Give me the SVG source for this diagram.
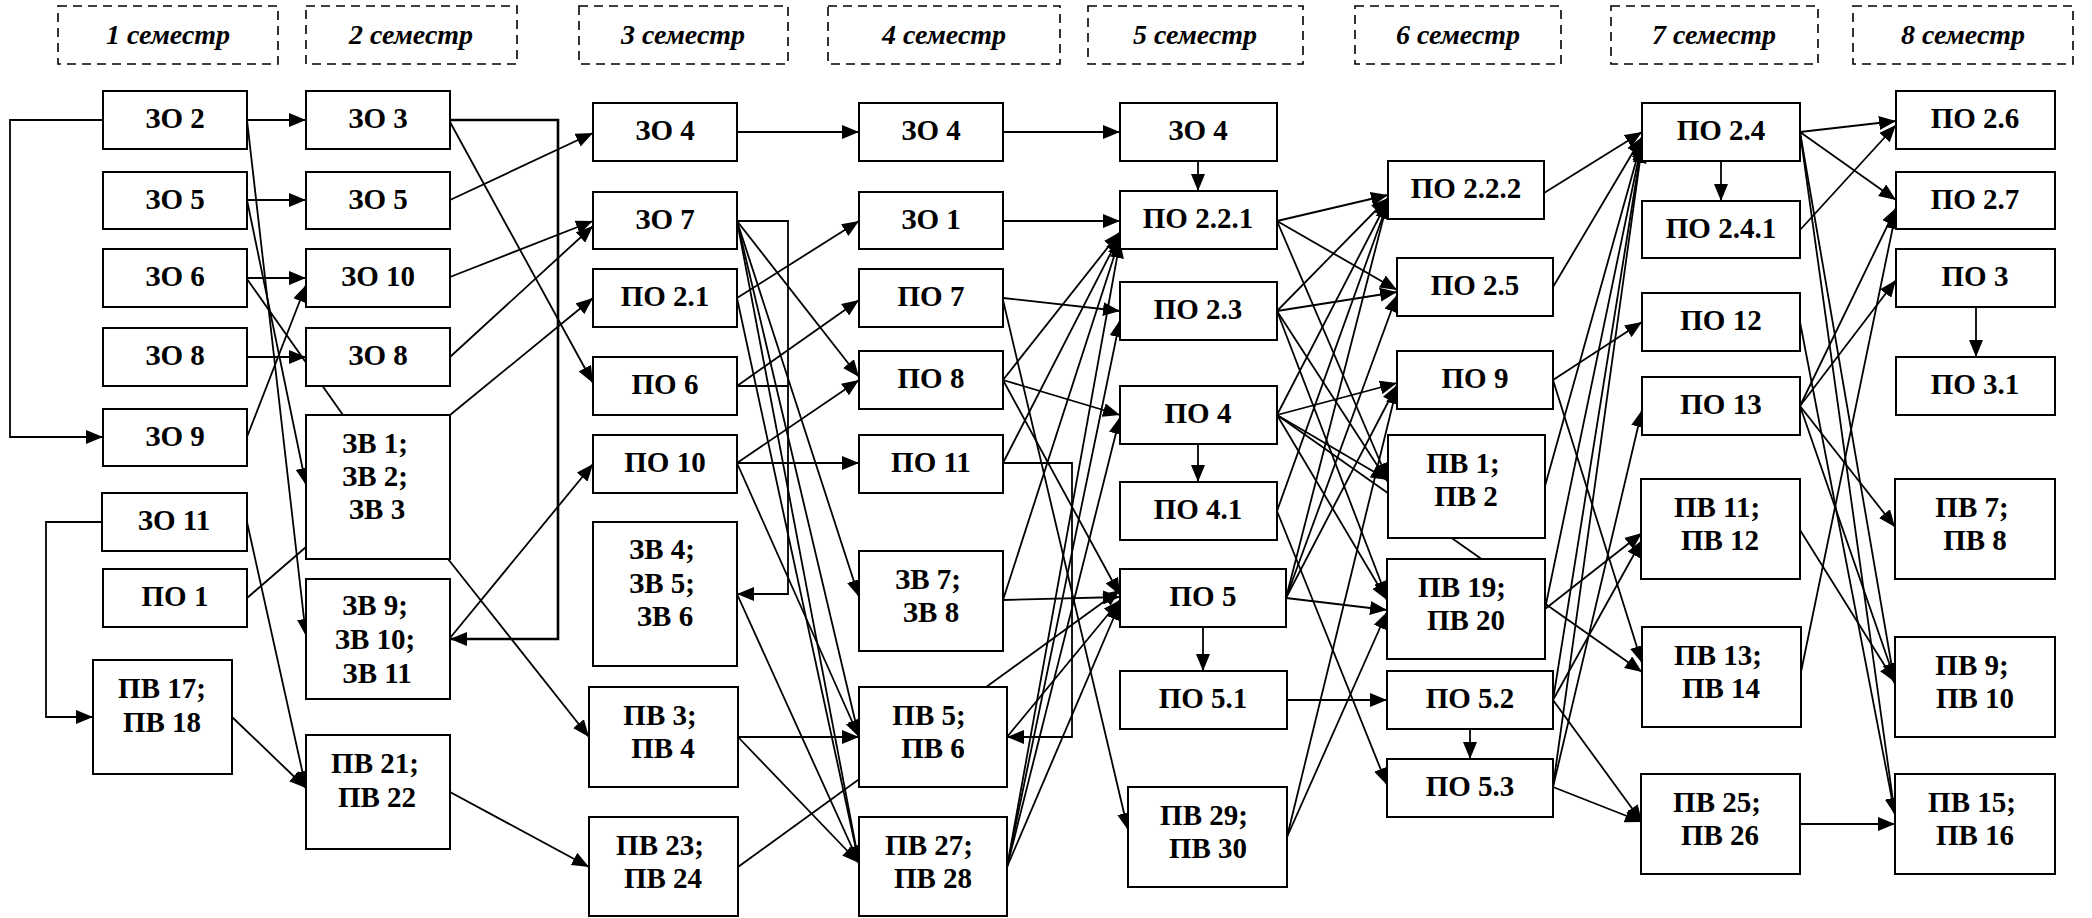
<svg xmlns="http://www.w3.org/2000/svg" width="2092" height="918" viewBox="0 0 2092 918">
<style>
.bg{fill:#fff}
.box{fill:#fff;stroke:#000;stroke-width:2}
.hdr{fill:none;stroke:#000;stroke-width:1.6;stroke-dasharray:9 6}
.t{font-weight:700;font-size:29px;text-anchor:middle;fill:#000}
.h{font-weight:700;font-style:italic;font-size:28px;text-anchor:middle;fill:#000}
#connectors path{fill:none;stroke:#000;stroke-width:1.8}
#connectors path.a{marker-end:url(#ah)}
#connectors path.k{stroke-width:2.6}
</style>
<defs>
<marker id="ah" markerUnits="userSpaceOnUse" markerWidth="17" markerHeight="14" refX="17" refY="7" orient="auto"><path d="M0,0 L17,7 L0,14 z" fill="#000"/></marker>
</defs>
<rect class="bg" x="0" y="0" width="2092" height="918"/>
<g id="headers" font-family="Liberation Serif, Times New Roman, serif">
<rect class="hdr" x="58" y="6" width="220" height="58"/><text class="h" x="168" y="44">1 семестр</text>
<rect class="hdr" x="306" y="6" width="211" height="58"/><text class="h" x="411" y="44">2 семестр</text>
<rect class="hdr" x="579" y="6" width="209" height="58"/><text class="h" x="683" y="44">3 семестр</text>
<rect class="hdr" x="828" y="6" width="232" height="58"/><text class="h" x="944" y="44">4 семестр</text>
<rect class="hdr" x="1088" y="6" width="215" height="58"/><text class="h" x="1195" y="44">5 семестр</text>
<rect class="hdr" x="1355" y="6" width="206" height="58"/><text class="h" x="1458" y="44">6 семестр</text>
<rect class="hdr" x="1611" y="6" width="207" height="58"/><text class="h" x="1714" y="44">7 семестр</text>
<rect class="hdr" x="1853" y="6" width="220" height="58"/><text class="h" x="1963" y="44">8 семестр</text>
</g>
<g id="connectors">
<path class="a" d="M103,120 H10 V437 H103"/>
<path class="a" d="M102,522 H46 V717 H93"/>
<path class="a" d="M247,120 H306"/>
<path class="a" d="M247,200 H306"/>
<path class="a" d="M247,278 H306"/>
<path class="a" d="M247,357 H306"/>
<path class="a" d="M247,437 L306,285"/>
<path class="a" d="M247,120 L306,636"/>
<path class="a" d="M247,200 L306,485"/>
<path d="M247,279 L343,415"/>
<path d="M247,598 L306,547"/>
<path class="a" d="M247,522 L306,788"/>
<path class="a" d="M232,717 L306,788"/>
<path class="a k" d="M450,120 H558 V639 H450"/>
<path class="a" d="M450,122 L593,383"/>
<path class="a" d="M450,200 L593,133"/>
<path class="a" d="M450,277 L593,221"/>
<path class="a" d="M450,357 L593,226"/>
<path class="a" d="M450,415 L593,298"/>
<path class="a" d="M448,559 L589,737"/>
<path class="a" d="M450,638 L593,464"/>
<path class="a" d="M450,792 L589,867"/>
<path class="a" d="M737,132 H859"/>
<path class="a" d="M737,221 H788 V594 H737"/>
<path d="M737,386 H788"/>
<path class="a" d="M737,221 L859,377"/>
<path class="a" d="M737,221 L859,597"/>
<path class="a" d="M737,221 L859,737"/>
<path class="a" d="M737,221 L859,863"/>
<path class="a" d="M737,298 L859,221"/>
<path class="a" d="M737,298 L859,863"/>
<path class="a" d="M737,386 L859,300"/>
<path class="a" d="M737,463 L859,380"/>
<path class="a" d="M737,463 H859"/>
<path class="a" d="M737,463 L859,737"/>
<path class="a" d="M737,594 L859,863"/>
<path class="a" d="M738,737 H859"/>
<path class="a" d="M738,737 L859,863"/>
<path class="a" d="M738,867 L1120,590"/>
<path class="a" d="M1003,132 H1120"/>
<path class="a" d="M1003,221 H1120"/>
<path class="a" d="M1003,298 L1120,311"/>
<path class="a" d="M1003,300 L1128,830"/>
<path class="a" d="M1003,380 L1120,232"/>
<path class="a" d="M1003,380 L1120,415"/>
<path class="a" d="M1003,380 L1120,595"/>
<path class="a" d="M1003,463 H1072 V737 H1007"/>
<path class="a" d="M1003,463 L1120,235"/>
<path class="a" d="M1003,600 L1120,597"/>
<path class="a" d="M1003,600 L1120,238"/>
<path class="a" d="M1007,737 L1120,600"/>
<path class="a" d="M1007,867 L1120,603"/>
<path class="a" d="M1007,867 L1120,417"/>
<path class="a" d="M1007,867 L1120,320"/>
<path class="a" d="M1007,867 L1120,241"/>
<path class="a" d="M1198,161 V191"/>
<path class="a" d="M1198,444 V482"/>
<path class="a" d="M1203,627 V671"/>
<path class="a" d="M1277,221 L1388,195"/>
<path class="a" d="M1277,221 L1397,290"/>
<path class="a" d="M1277,221 L1388,480"/>
<path class="a" d="M1277,311 L1388,198"/>
<path class="a" d="M1277,311 L1397,292"/>
<path class="a" d="M1277,311 L1388,482"/>
<path class="a" d="M1277,311 L1387,598"/>
<path class="a" d="M1277,415 L1388,200"/>
<path class="a" d="M1277,415 L1397,383"/>
<path class="a" d="M1277,415 L1388,480"/>
<path class="a" d="M1277,415 L1642,672"/>
<path class="a" d="M1277,415 L1387,600"/>
<path class="a" d="M1277,511 L1388,202"/>
<path class="a" d="M1277,511 L1387,785"/>
<path class="a" d="M1286,598 L1388,200"/>
<path class="a" d="M1286,598 L1397,295"/>
<path class="a" d="M1286,598 L1397,385"/>
<path class="a" d="M1286,598 L1387,610"/>
<path class="a" d="M1287,700 H1387"/>
<path class="a" d="M1287,837 L1397,387"/>
<path class="a" d="M1287,837 L1387,612"/>
<path class="a" d="M1470,729 V759"/>
<path class="a" d="M1544,193 L1642,132"/>
<path class="a" d="M1553,287 L1642,137"/>
<path class="a" d="M1545,486 L1642,140"/>
<path class="a" d="M1545,609 L1642,142"/>
<path class="a" d="M1553,700 L1642,144"/>
<path class="a" d="M1553,787 L1642,146"/>
<path class="a" d="M1553,380 L1642,322"/>
<path class="a" d="M1553,380 L1642,663"/>
<path class="a" d="M1545,609 L1642,533"/>
<path class="a" d="M1553,700 L1642,540"/>
<path class="a" d="M1553,787 L1642,410"/>
<path class="a" d="M1553,700 L1642,822"/>
<path class="a" d="M1553,787 L1642,822"/>
<path class="a" d="M1721,161 V201"/>
<path class="a" d="M1800,132 L1896,121"/>
<path class="a" d="M1800,132 L1896,200"/>
<path class="a" d="M1800,132 L1895,685"/>
<path class="a" d="M1800,132 L1895,815"/>
<path class="a" d="M1800,230 L1896,125"/>
<path class="a" d="M1800,322 L1895,815"/>
<path class="a" d="M1800,406 L1896,208"/>
<path class="a" d="M1800,406 L1896,280"/>
<path class="a" d="M1800,406 L1895,527"/>
<path class="a" d="M1800,406 L1895,680"/>
<path class="a" d="M1800,530 L1895,682"/>
<path class="a" d="M1801,672 L1896,212"/>
<path class="a" d="M1800,824 H1895"/>
<path class="a" d="M1976,307 V357"/>
</g>
<g id="nodes" font-family="Liberation Serif, Times New Roman, serif">
<g id="n-zo2-1"><rect class="box" x="103" y="91" width="144" height="58"/><text class="t" x="175" y="128">ЗО 2</text></g>
<g id="n-zo5-1"><rect class="box" x="103" y="172" width="144" height="57"/><text class="t" x="175" y="209">ЗО 5</text></g>
<g id="n-zo6-1"><rect class="box" x="103" y="249" width="144" height="58"/><text class="t" x="175" y="286">ЗО 6</text></g>
<g id="n-zo8-1"><rect class="box" x="103" y="328" width="144" height="58"/><text class="t" x="175" y="365">ЗО 8</text></g>
<g id="n-zo9-1"><rect class="box" x="103" y="409" width="144" height="57"/><text class="t" x="175" y="446">ЗО 9</text></g>
<g id="n-zo11-1"><rect class="box" x="102" y="493" width="145" height="58"/><text class="t" x="174" y="530">ЗО 11</text></g>
<g id="n-po1"><rect class="box" x="103" y="569" width="144" height="58"/><text class="t" x="175" y="606">ПО 1</text></g>
<g id="n-pv17"><rect class="box" x="93" y="660" width="139" height="114"/><text class="t" x="162" y="698">ПВ 17;</text><text class="t" x="162" y="732">ПВ 18</text></g>
<g id="n-zo3-2"><rect class="box" x="306" y="91" width="144" height="58"/><text class="t" x="378" y="128">ЗО 3</text></g>
<g id="n-zo5-2"><rect class="box" x="306" y="172" width="144" height="57"/><text class="t" x="378" y="209">ЗО 5</text></g>
<g id="n-zo10-2"><rect class="box" x="306" y="249" width="144" height="58"/><text class="t" x="378" y="286">ЗО 10</text></g>
<g id="n-zo8-2"><rect class="box" x="306" y="328" width="144" height="58"/><text class="t" x="378" y="365">ЗО 8</text></g>
<g id="n-zv1"><rect class="box" x="306" y="415" width="144" height="144"/><text class="t" x="375" y="453">ЗВ 1;</text><text class="t" x="375" y="486">ЗВ 2;</text><text class="t" x="377" y="519">ЗВ 3</text></g>
<g id="n-zv9"><rect class="box" x="306" y="579" width="144" height="120"/><text class="t" x="375" y="615">ЗВ 9;</text><text class="t" x="375" y="649">ЗВ 10;</text><text class="t" x="377" y="683">ЗВ 11</text></g>
<g id="n-pv21"><rect class="box" x="306" y="735" width="144" height="114"/><text class="t" x="375" y="773">ПВ 21;</text><text class="t" x="377" y="807">ПВ 22</text></g>
<g id="n-zo4-3"><rect class="box" x="593" y="103" width="144" height="58"/><text class="t" x="665" y="140">ЗО 4</text></g>
<g id="n-zo7-3"><rect class="box" x="593" y="192" width="144" height="57"/><text class="t" x="665" y="229">ЗО 7</text></g>
<g id="n-po21"><rect class="box" x="593" y="269" width="144" height="58"/><text class="t" x="665" y="306">ПО 2.1</text></g>
<g id="n-po6"><rect class="box" x="593" y="357" width="144" height="58"/><text class="t" x="665" y="394">ПО 6</text></g>
<g id="n-po10"><rect class="box" x="593" y="435" width="144" height="58"/><text class="t" x="665" y="472">ПО 10</text></g>
<g id="n-zv4"><rect class="box" x="593" y="522" width="144" height="144"/><text class="t" x="662" y="559">ЗВ 4;</text><text class="t" x="662" y="593">ЗВ 5;</text><text class="t" x="665" y="626">ЗВ 6</text></g>
<g id="n-pv3"><rect class="box" x="589" y="687" width="149" height="100"/><text class="t" x="660" y="725">ПВ 3;</text><text class="t" x="663" y="758">ПВ 4</text></g>
<g id="n-pv23"><rect class="box" x="589" y="817" width="149" height="99"/><text class="t" x="660" y="855">ПВ 23;</text><text class="t" x="663" y="888">ПВ 24</text></g>
<g id="n-zo4-4"><rect class="box" x="859" y="103" width="144" height="58"/><text class="t" x="931" y="140">ЗО 4</text></g>
<g id="n-zo1-4"><rect class="box" x="859" y="192" width="144" height="57"/><text class="t" x="931" y="229">ЗО 1</text></g>
<g id="n-po7"><rect class="box" x="859" y="269" width="144" height="58"/><text class="t" x="931" y="306">ПО 7</text></g>
<g id="n-po8"><rect class="box" x="859" y="351" width="144" height="58"/><text class="t" x="931" y="388">ПО 8</text></g>
<g id="n-po11"><rect class="box" x="859" y="435" width="144" height="58"/><text class="t" x="931" y="472">ПО 11</text></g>
<g id="n-zv7"><rect class="box" x="859" y="551" width="144" height="100"/><text class="t" x="928" y="589">ЗВ 7;</text><text class="t" x="931" y="622">ЗВ 8</text></g>
<g id="n-pv5"><rect class="box" x="859" y="687" width="148" height="100"/><text class="t" x="929" y="725">ПВ 5;</text><text class="t" x="933" y="758">ПВ 6</text></g>
<g id="n-pv27"><rect class="box" x="859" y="817" width="148" height="99"/><text class="t" x="929" y="855">ПВ 27;</text><text class="t" x="933" y="888">ПВ 28</text></g>
<g id="n-zo4-5"><rect class="box" x="1120" y="103" width="157" height="58"/><text class="t" x="1198" y="140">ЗО 4</text></g>
<g id="n-po221"><rect class="box" x="1120" y="191" width="157" height="58"/><text class="t" x="1198" y="228">ПО 2.2.1</text></g>
<g id="n-po23"><rect class="box" x="1120" y="282" width="157" height="58"/><text class="t" x="1198" y="319">ПО 2.3</text></g>
<g id="n-po4"><rect class="box" x="1120" y="386" width="157" height="58"/><text class="t" x="1198" y="423">ПО 4</text></g>
<g id="n-po41"><rect class="box" x="1120" y="482" width="157" height="58"/><text class="t" x="1198" y="519">ПО 4.1</text></g>
<g id="n-po5"><rect class="box" x="1120" y="569" width="166" height="58"/><text class="t" x="1203" y="606">ПО 5</text></g>
<g id="n-po51"><rect class="box" x="1120" y="671" width="167" height="58"/><text class="t" x="1203" y="708">ПО 5.1</text></g>
<g id="n-pv29"><rect class="box" x="1128" y="787" width="159" height="100"/><text class="t" x="1204" y="825">ПВ 29;</text><text class="t" x="1208" y="858">ПВ 30</text></g>
<g id="n-po222"><rect class="box" x="1388" y="161" width="156" height="58"/><text class="t" x="1466" y="198">ПО 2.2.2</text></g>
<g id="n-po25"><rect class="box" x="1397" y="258" width="156" height="58"/><text class="t" x="1475" y="295">ПО 2.5</text></g>
<g id="n-po9"><rect class="box" x="1397" y="351" width="156" height="58"/><text class="t" x="1475" y="388">ПО 9</text></g>
<g id="n-pv1"><rect class="box" x="1388" y="435" width="157" height="103"/><text class="t" x="1463" y="473">ПВ 1;</text><text class="t" x="1466" y="506">ПВ 2</text></g>
<g id="n-pv19"><rect class="box" x="1387" y="559" width="158" height="100"/><text class="t" x="1462" y="597">ПВ 19;</text><text class="t" x="1466" y="630">ПВ 20</text></g>
<g id="n-po52"><rect class="box" x="1387" y="671" width="166" height="58"/><text class="t" x="1470" y="708">ПО 5.2</text></g>
<g id="n-po53"><rect class="box" x="1387" y="759" width="166" height="58"/><text class="t" x="1470" y="796">ПО 5.3</text></g>
<g id="n-po24"><rect class="box" x="1642" y="103" width="158" height="58"/><text class="t" x="1721" y="140">ПО 2.4</text></g>
<g id="n-po241"><rect class="box" x="1642" y="201" width="158" height="57"/><text class="t" x="1721" y="238">ПО 2.4.1</text></g>
<g id="n-po12"><rect class="box" x="1642" y="293" width="158" height="58"/><text class="t" x="1721" y="330">ПО 12</text></g>
<g id="n-po13"><rect class="box" x="1642" y="377" width="158" height="58"/><text class="t" x="1721" y="414">ПО 13</text></g>
<g id="n-pv11"><rect class="box" x="1641" y="479" width="159" height="100"/><text class="t" x="1717" y="517">ПВ 11;</text><text class="t" x="1720" y="550">ПВ 12</text></g>
<g id="n-pv13"><rect class="box" x="1642" y="627" width="159" height="100"/><text class="t" x="1718" y="665">ПВ 13;</text><text class="t" x="1721" y="698">ПВ 14</text></g>
<g id="n-pv25"><rect class="box" x="1641" y="774" width="159" height="100"/><text class="t" x="1717" y="812">ПВ 25;</text><text class="t" x="1720" y="845">ПВ 26</text></g>
<g id="n-po26"><rect class="box" x="1896" y="91" width="159" height="58"/><text class="t" x="1975" y="128">ПО 2.6</text></g>
<g id="n-po27"><rect class="box" x="1896" y="172" width="159" height="57"/><text class="t" x="1975" y="209">ПО 2.7</text></g>
<g id="n-po3"><rect class="box" x="1896" y="249" width="159" height="58"/><text class="t" x="1975" y="286">ПО 3</text></g>
<g id="n-po31"><rect class="box" x="1896" y="357" width="159" height="58"/><text class="t" x="1975" y="394">ПО 3.1</text></g>
<g id="n-pv7"><rect class="box" x="1895" y="479" width="160" height="100"/><text class="t" x="1972" y="517">ПВ 7;</text><text class="t" x="1975" y="550">ПВ 8</text></g>
<g id="n-pv9"><rect class="box" x="1895" y="637" width="160" height="100"/><text class="t" x="1972" y="675">ПВ 9;</text><text class="t" x="1975" y="708">ПВ 10</text></g>
<g id="n-pv15"><rect class="box" x="1895" y="774" width="160" height="100"/><text class="t" x="1972" y="812">ПВ 15;</text><text class="t" x="1975" y="845">ПВ 16</text></g>
</g>
</svg>
